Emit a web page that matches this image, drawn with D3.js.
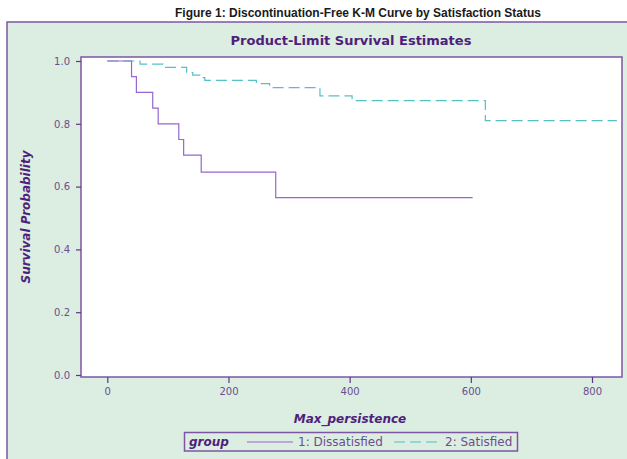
<!DOCTYPE html>
<html>
<head>
<meta charset="utf-8">
<script src="https://cdn.jsdelivr.net/npm/d3@7"></script>
<style>
  body { margin: 0; background: #fff; }
</style>
</head>
<body>
<script>
// K-M estimates
var dissTime = [0, 40, 48, 75, 84, 118, 126, 155, 278, 603];
var dissSurv = [1, 0.95, 0.9, 0.85, 0.8, 0.75, 0.7, 0.646, 0.565, 0.565];
var satTime = [0, 54, 92, 131, 141, 153, 161, 246, 268, 351, 404, 624, 841];
var satSurv = [1, 0.99, 0.98, 0.963, 0.955, 0.947, 0.938, 0.928, 0.915, 0.889, 0.874, 0.81, 0.81];
var xTicks = [0, 200, 400, 600, 800];
var yTicks = [0, 0.2, 0.4, 0.6, 0.8, 1.0];
var groupNames = ["1: Dissatisfied", "2: Satisfied"];

var width = 627, height = 459;
var purple = "#7d56a3";
var darkText = "#4e1f7c";
var tickText = "#6b4d8e";
var color1 = "#9466d2";
var color2 = "#55c0c6";
var font = "'DejaVu Sans', Verdana, sans-serif";

var svg = d3.select("body").append("svg")
    .attr("width", width)
    .attr("height", height);

// figure caption
svg.append("text")
    .attr("x", 358)
    .attr("y", 17)
    .attr("text-anchor", "middle")
    .attr("font-family", "'Liberation Sans', Arial, sans-serif")
    .attr("font-weight", "bold")
    .style("font-size", "12px")
    .style("fill", "#1a1a1a")
    .text("Figure 1: Discontinuation-Free K-M Curve by Satisfaction Status");

// outer panel (runs off the right / bottom edge)
svg.append("rect")
    .attr("x", 7)
    .attr("y", 22)
    .attr("width", 640)
    .attr("height", 460)
    .attr("fill", "#dcede2")
    .attr("stroke", purple)
    .attr("stroke-width", 1.5);

svg.append("text")
    .attr("x", 351)
    .attr("y", 45)
    .attr("text-anchor", "middle")
    .attr("font-family", font)
    .attr("font-weight", "bold")
    .style("font-size", "13px")
    .style("fill", darkText)
    .text("Product-Limit Survival Estimates");

// plot area
var plot = {left: 81, top: 57, right: 622, bottom: 377};

var x = d3.scaleLinear().domain([0, 800]).range([107.3, 592]);
var y = d3.scaleLinear().domain([0, 1]).range([375, 61]);

svg.append("rect")
    .attr("x", plot.left)
    .attr("y", plot.top)
    .attr("width", plot.right - plot.left)
    .attr("height", plot.bottom - plot.top)
    .attr("fill", "#fff")
    .attr("stroke", purple)
    .attr("stroke-width", 1.5);

// axes
var xAxis = svg.append("g")
    .attr("transform", "translate(0," + plot.bottom + ")")
    .call(d3.axisBottom(x).tickValues(xTicks).tickSize(6).tickPadding(5).tickFormat(d3.format("d")));
var yAxis = svg.append("g")
    .attr("transform", "translate(" + plot.left + ",0)")
    .call(d3.axisLeft(y).tickValues(yTicks).tickSize(5).tickPadding(6).tickFormat(d3.format(".1f")));

[xAxis, yAxis].forEach(function(ax) {
  ax.select(".domain").remove();
  ax.selectAll(".tick line").attr("stroke", "#5e3787").attr("stroke-width", 1.2);
  ax.selectAll(".tick text")
    .attr("font-family", font)
    .style("font-size", "10px")
    .style("fill", tickText);
});

// curves
var line = d3.line()
    .x(function(d) { return x(d.t); })
    .y(function(d) { return y(d.s); })
    .curve(d3.curveStepAfter);

var diss = dissTime.map(function(t, i) { return {t: t, s: dissSurv[i]}; });
var sat = satTime.map(function(t, i) { return {t: t, s: satSurv[i]}; });

svg.append("path")
    .datum(sat)
    .attr("d", line)
    .attr("fill", "none")
    .attr("stroke", color2)
    .attr("stroke-width", 1.2)
    .attr("stroke-dasharray", "11,5");

svg.append("path")
    .datum(diss)
    .attr("d", line)
    .attr("fill", "none")
    .attr("stroke", color1)
    .attr("stroke-width", 1.2);

// axis labels
svg.append("text")
    .attr("x", 350)
    .attr("y", 423)
    .attr("text-anchor", "middle")
    .attr("font-family", font)
    .attr("font-weight", "bold")
    .attr("font-style", "italic")
    .style("font-size", "12px")
    .style("fill", darkText)
    .text("Max_persistence");

svg.append("text")
    .attr("transform", "translate(30,217) rotate(-90)")
    .attr("text-anchor", "middle")
    .attr("font-family", font)
    .attr("font-weight", "bold")
    .attr("font-style", "italic")
    .style("font-size", "12px")
    .style("fill", darkText)
    .text("Survival Probability");

// legend
var legend = svg.append("g");
legend.append("rect")
    .attr("x", 184.5)
    .attr("y", 432.5)
    .attr("width", 333)
    .attr("height", 18.5)
    .attr("fill", "none")
    .attr("stroke", purple)
    .attr("stroke-width", 1.5);

legend.append("text")
    .attr("x", 189)
    .attr("y", 446)
    .attr("font-family", font)
    .attr("font-weight", "bold")
    .attr("font-style", "italic")
    .style("font-size", "12px")
    .style("fill", darkText)
    .text("group");

var items = [
  {name: groupNames[0], color: color1, dash: null, x0: 247, x1: 293, tx: 298},
  {name: groupNames[1], color: color2, dash: "11,5", x0: 394, x1: 438, tx: 445}
];
items.forEach(function(it) {
  legend.append("line")
      .attr("x1", it.x0).attr("x2", it.x1)
      .attr("y1", 442).attr("y2", 442)
      .attr("stroke", it.color)
      .attr("stroke-width", 1.2)
      .attr("stroke-dasharray", it.dash);
  legend.append("text")
      .attr("x", it.tx)
      .attr("y", 446)
      .attr("font-family", font)
      .style("font-size", "12px")
      .style("fill", tickText)
      .text(it.name);
});
</script>
</body>
</html>
